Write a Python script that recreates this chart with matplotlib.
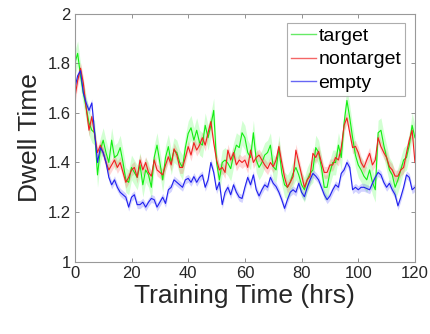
import numpy as np
import matplotlib
matplotlib.use("Agg")
import matplotlib.pyplot as plt
from matplotlib.lines import Line2D

hours = list(range(0, 121))

target = [1.80, 1.84, 1.75, 1.68, 1.62, 1.56, 1.53, 1.52, 1.35, 1.45,
          1.49, 1.44, 1.40, 1.49, 1.42, 1.43, 1.46, 1.40, 1.33, 1.32,
          1.38, 1.36, 1.34, 1.39, 1.31, 1.37, 1.35, 1.30, 1.42, 1.47,
          1.40, 1.33, 1.42, 1.464, 1.40, 1.45, 1.44, 1.40, 1.38, 1.46,
          1.517, 1.54, 1.49, 1.53, 1.48, 1.47, 1.55, 1.50, 1.55, 1.61,
          1.40, 1.33, 1.40, 1.41, 1.397, 1.375, 1.43, 1.47, 1.46, 1.52,
          1.50, 1.44, 1.42, 1.52, 1.41, 1.38, 1.40, 1.43, 1.44, 1.47,
          1.383, 1.37, 1.46, 1.36, 1.31, 1.30, 1.32, 1.356, 1.38, 1.35,
          1.31, 1.29, 1.33, 1.356, 1.37, 1.46, 1.44, 1.38, 1.30, 1.30,
          1.36, 1.40, 1.40, 1.47, 1.42, 1.56, 1.65, 1.58, 1.50, 1.43,
          1.39, 1.37, 1.345, 1.33, 1.37, 1.32, 1.29, 1.52, 1.53, 1.47,
          1.42, 1.37, 1.35, 1.30, 1.33, 1.37, 1.41, 1.42, 1.47, 1.55,
          1.50]

nontarget = [1.66, 1.73, 1.78, 1.72, 1.62, 1.53, 1.585, 1.51, 1.44, 1.47,
             1.44, 1.40, 1.37, 1.39, 1.41, 1.38, 1.40, 1.36, 1.32, 1.34,
             1.37, 1.38, 1.34, 1.41, 1.37, 1.40, 1.36, 1.345, 1.41, 1.37,
             1.36, 1.35, 1.39, 1.423, 1.39, 1.455, 1.43, 1.38, 1.38, 1.42,
             1.464, 1.43, 1.48, 1.45, 1.47, 1.50, 1.47, 1.52, 1.565, 1.48,
             1.41, 1.37, 1.38, 1.36, 1.45, 1.41, 1.44, 1.39, 1.41, 1.40,
             1.41, 1.38, 1.45, 1.40, 1.42, 1.43, 1.41, 1.39, 1.375, 1.40,
             1.383, 1.41, 1.465, 1.40, 1.34, 1.30, 1.32, 1.343, 1.45, 1.40,
             1.35, 1.30, 1.33, 1.345, 1.437, 1.42, 1.445, 1.40, 1.36, 1.36,
             1.39, 1.39, 1.42, 1.41, 1.46, 1.55, 1.58, 1.52, 1.46, 1.465,
             1.44, 1.40, 1.38, 1.41, 1.437, 1.39, 1.41, 1.50, 1.464, 1.44,
             1.42, 1.383, 1.37, 1.345, 1.345, 1.37, 1.38, 1.437, 1.49, 1.53,
             1.40]

empty = [1.70, 1.75, 1.77, 1.68, 1.64, 1.61, 1.64, 1.52, 1.40, 1.46,
         1.44, 1.40, 1.34, 1.31, 1.33, 1.30, 1.28, 1.27, 1.26, 1.22,
         1.26, 1.27, 1.23, 1.23, 1.24, 1.22, 1.24, 1.255, 1.25, 1.22,
         1.24, 1.26, 1.235, 1.29, 1.30, 1.33, 1.32, 1.31, 1.30, 1.33,
         1.336, 1.32, 1.343, 1.32, 1.34, 1.35, 1.30, 1.33, 1.40, 1.36,
         1.29, 1.32, 1.23, 1.28, 1.30, 1.27, 1.31, 1.28, 1.26, 1.255,
         1.30, 1.34, 1.31, 1.35, 1.29, 1.265, 1.29, 1.31, 1.30, 1.34,
         1.316, 1.303, 1.28, 1.25, 1.215, 1.25, 1.28, 1.29, 1.28, 1.316,
         1.28, 1.262, 1.30, 1.33, 1.356, 1.345, 1.33, 1.30, 1.27, 1.25,
         1.265, 1.29, 1.31, 1.30, 1.356, 1.37, 1.40, 1.38, 1.29, 1.30,
         1.29, 1.30, 1.30, 1.295, 1.29, 1.316, 1.34, 1.36, 1.35, 1.32,
         1.30, 1.316, 1.29, 1.27, 1.225, 1.26, 1.30, 1.35, 1.34, 1.29,
         1.30]

err_target = 0.05
err_nontarget = 0.024
err_empty = 0.016

labels = ["target", "nontarget", "empty"]
x_ticks = [0, 20, 40, 60, 80, 100, 120]
y_ticks = [1, 1.2, 1.4, 1.6, 1.8, 2]
y_tick_labels = ["1", "1.2", "1.4", "1.6", "1.8", "2"]

plt.rcParams['font.family'] = ['Liberation Sans', 'DejaVu Sans']

fig = plt.figure(figsize=(4.30, 3.34), dpi=100)
ax = fig.add_axes([0.174, 0.2165, 0.791, 0.7425])

series = [(target, err_target, '#11ee11', '#22ff22'),
          (nontarget, err_nontarget, '#f02020', '#ff3030'),
          (empty, err_empty, '#2020ee', '#2020ff')]
x = np.array(hours)
for vals, err, lc, fc in series:
    v = np.array(vals)
    ax.fill_between(x, v - err, v + err, color=fc, alpha=0.2, linewidth=0)
    ax.plot(x, v, color=lc, linewidth=0.8)

ax.set_xlim(0, 120)
ax.set_ylim(1, 2)
ax.set_xticks(x_ticks)
ax.set_yticks(y_ticks)
ax.set_yticklabels(y_tick_labels)
ax.tick_params(direction='in', length=3, width=0.6, colors='#808080',
               labelcolor='#262626', labelsize=12, top=True, right=True, pad=3)
for s in ax.spines.values():
    s.set_color('#999999')
    s.set_linewidth(0.8)

ax.set_xlabel("Training Time (hrs)", fontsize=19, color='#262626', labelpad=2)
ax.set_ylabel("Dwell Time", fontsize=19, color='#262626', labelpad=4)

handles = [Line2D([0], [0], color=c, linewidth=1.0, alpha=0.6)
           for c in ['#00dd00', '#ee0000', '#0000ee']]
leg = ax.legend(handles, labels, loc='upper right', fontsize=14,
                frameon=True, fancybox=False, edgecolor='#999999',
                handlelength=1.25, handletextpad=0.15, borderpad=0.2,
                labelspacing=0.3, borderaxespad=0.5)
leg.get_frame().set_linewidth(0.8)

fig.savefig("out.png", dpi=100)
